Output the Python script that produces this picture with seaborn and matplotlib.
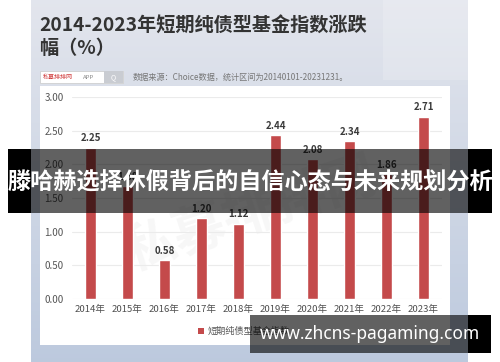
import numpy as np
import matplotlib
matplotlib.use('Agg')
import matplotlib.pyplot as plt
import seaborn as sns
from matplotlib.patches import Rectangle

# data
years = ['2014年', '2015年', '2016年', '2017年', '2018年',
         '2019年', '2020年', '2021年', '2022年', '2023年']
returns = [2.25, 1.68, 0.58, 1.20, 1.12, 2.44, 2.08, 2.34, 1.86, 2.71]
y_ticks = [0.0, 0.5, 1.0, 1.5, 2.0, 2.5, 3.0]

title = '2014-2023年短期纯债型基金指数涨跌\n幅（%）'
source = '数据来源：Choice数据，统计区间为20140101-20231231。'
legend_label = '短期纯债型基金指数'
banner_text = '滕哈赫选择休假背后的自信心态与未来规划分析'
site_text = 'www.zhcns-pagaming.com'

sns.set_theme(style='white')
plt.rcParams['font.family'] = ['Noto Sans CJK SC', 'DejaVu Sans']

W, H = 500, 362
bar_color = '#c44a4b'

fig = plt.figure(figsize=(W / 100, H / 100), dpi=100)

# background layer in pixel coordinates
bg = fig.add_axes([0, 0, 1, 1], zorder=0)
bg.set_xlim(0, W)
bg.set_ylim(H, 0)
bg.axis('off')
grad = np.linspace(0, 1, 200)[:, None]
top = np.array([0.89, 0.90, 0.93])
bot = np.array([0.74, 0.79, 0.87])
img = top + grad[..., None] * (bot - top)
bg.imshow(img, extent=[31, 468, H, 0], aspect='auto', zorder=0)
bg.add_patch(Rectangle((383, 0), 85, 80, color='white', alpha=0.18, lw=0, zorder=1))
bg.add_patch(Rectangle((40, 86), 410, 259, color='white', lw=0, zorder=1))

bg.text(39, 17, title, fontsize=13.8, fontweight='bold', color='#333333',
        va='top', ha='left', linespacing=1.2, zorder=2)
bg.add_patch(Rectangle((40, 71), 83, 12, facecolor='white', edgecolor='#cfcfcf', lw=0.6, zorder=2))
bg.add_patch(Rectangle((104, 71), 19, 12, facecolor='#c9ccd2', lw=0, zorder=3))
bg.text(43, 77.5, '私募排排网', fontsize=4.3, color='#d03a3a', va='center', ha='left', zorder=3)
bg.text(83, 77.5, 'APP', fontsize=4.3, color='#888888', va='center', ha='left', zorder=3)
bg.text(113.5, 77, 'Q', fontsize=5, color='white', va='center', ha='center', zorder=4)
bg.text(133, 77, source, fontsize=5.9, color='#777777', va='center', ha='left', zorder=2)

# watermark
bg.text(250, 215, '私募排排网', fontsize=38, color='#999999', alpha=0.08,
        rotation=18, ha='center', va='center', fontweight='bold', zorder=2)

# legend drawn as a marker and text
bg.add_patch(Rectangle((198, 328), 6, 6, color=bar_color, lw=0, zorder=2))
bg.text(208, 331, legend_label, fontsize=6.6, color='#555555', va='center', ha='left', zorder=2)

# chart axes
ax = fig.add_axes([72 / W, (H - 299) / H, 370 / W, 202 / H], zorder=1)
ax.patch.set_alpha(0)
sns.barplot(x=years, y=returns, color=bar_color, saturation=1, width=0.28, ax=ax, zorder=3)
ax.set_ylim(0, 3.0)
ax.set_xlim(-0.5, len(years) - 0.5)
ax.set_yticks(y_ticks)
ax.set_yticklabels([f'{t:.2f}' for t in y_ticks])
ax.yaxis.grid(True, color='#ebebeb', lw=0.8, zorder=0)
ax.set_axisbelow(True)
for s in ax.spines.values():
    s.set_visible(False)
ax.set_xlabel('')
ax.set_ylabel('')
ax.tick_params(axis='y', labelsize=7, colors='#555555', length=0, pad=6)
ax.tick_params(axis='x', labelsize=6.9, colors='#505050', length=0, pad=4)
ax.bar_label(ax.containers[0], labels=[f'{v:.2f}' for v in returns],
             padding=3, fontsize=7, color='#3a3a3a', fontweight='bold')

# overlay banners
ov = fig.add_axes([0, 0, 1, 1], zorder=5)
ov.set_xlim(0, W)
ov.set_ylim(H, 0)
ov.axis('off')
ov.patch.set_alpha(0)
ov.add_patch(Rectangle((8, 149), 23, 64, color='black', lw=0))
ov.add_patch(Rectangle((468, 149), 24, 64, color='black', lw=0))
ov.add_patch(Rectangle((31, 149), 437, 64, color='black', alpha=0.62, lw=0))
ov.text(250, 183, banner_text, fontsize=16.7, fontweight='bold', color='white',
        ha='center', va='center')
ov.add_patch(Rectangle((468, 315), 23, 38, color='black', lw=0))
ov.add_patch(Rectangle((250, 315), 218, 38, color='black', alpha=0.62, lw=0))
ov.text(370, 334, site_text, fontsize=12.5, fontweight='bold', color='white',
        ha='center', va='center', family=['Noto Sans', 'DejaVu Sans'])

fig.savefig('out.png', dpi=100)
